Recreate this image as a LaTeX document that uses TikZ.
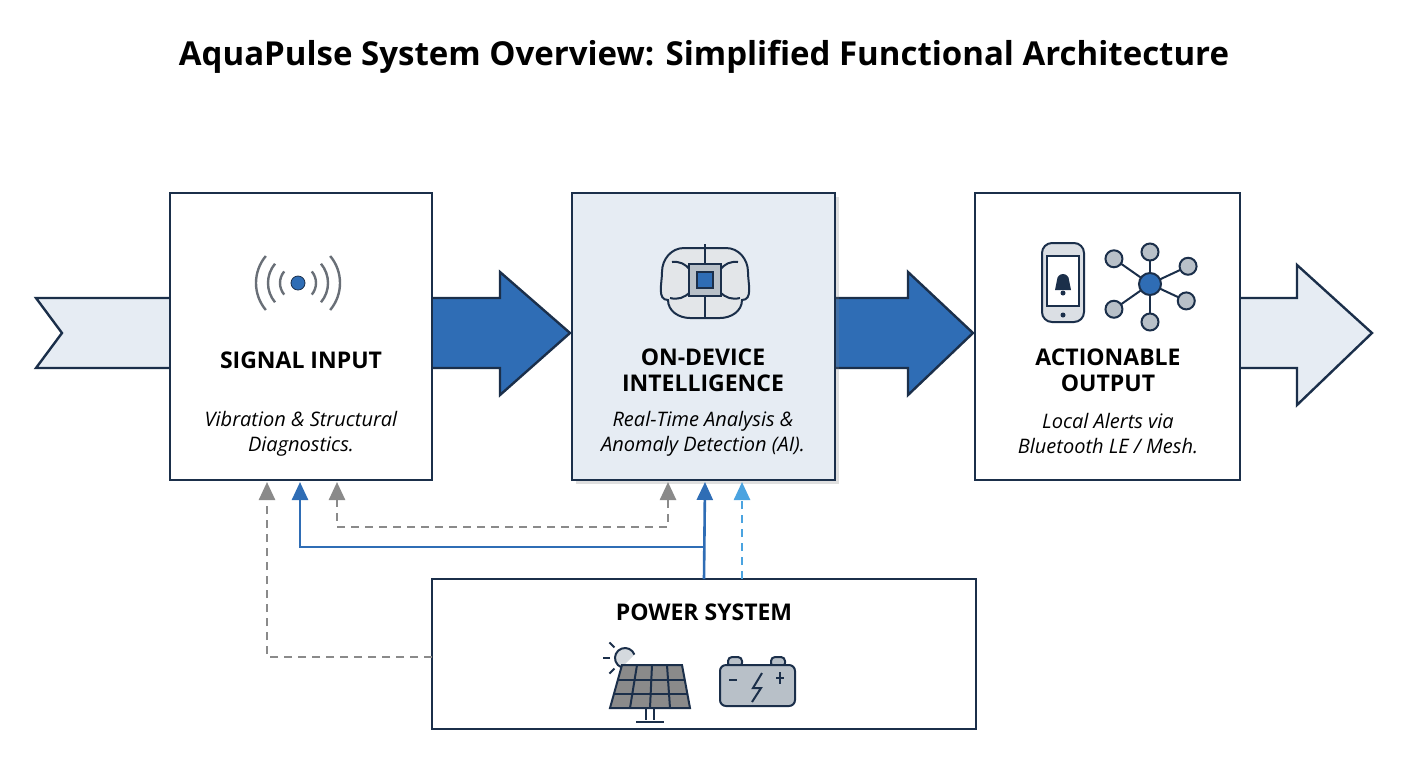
\documentclass[tikz,border=0pt]{standalone}
\usepackage{fontspec}
\setmainfont{Open Sans}
\usetikzlibrary{arrows.meta,shadows,calc}
\definecolor{navy}{HTML}{1B2F4A}
\definecolor{flowblue}{HTML}{2F6DB5}
\definecolor{paleblue}{HTML}{E6ECF3}
\definecolor{linkgray}{HTML}{8A8A8A}
\definecolor{skyblue}{HTML}{4AA3E0}
\definecolor{icongray}{HTML}{B8C0C8}
\tikzset{
  block/.style={draw=navy, line width=1.2pt, fill=white},
  head/.style={font=\fontsize{11.5}{13}\selectfont\bfseries, align=center},
  note/.style={font=\fontsize{10}{12.5}\selectfont\itshape, align=center},
  link/.style={line width=1.3pt, -{Triangle[length=9pt,width=8pt]}},
  dashlink/.style={dash pattern=on 4pt off 3pt},
  icon/.style={draw=navy, line width=1pt},
  dot/.style={circle, draw=navy, line width=1pt, fill=icongray, inner sep=0pt, minimum size=8.5pt}
}
\begin{document}
\begin{tikzpicture}[x=0.5pt,y=-0.5pt]
  \useasboundingbox (0,0) rectangle (1408,768);
  \node[font=\fontsize{16.5}{19}\selectfont\bfseries] (title) at (704,57) {AquaPulse System Overview: Simplified Functional Architecture};

  % big flow arrows
  \draw[icon, fill=paleblue, line width=1.2pt] (36,298) -- (172,298) -- (172,368) -- (36,368) -- (62,333) -- cycle;
  \draw[icon, fill=flowblue, line width=1.2pt] (430,298) -- (500,298) -- (500,272) -- (570,333) -- (500,395) -- (500,368) -- (430,368) -- cycle;
  \draw[icon, fill=flowblue, line width=1.2pt] (833,298) -- (908,298) -- (908,272) -- (973,333) -- (908,395) -- (908,368) -- (833,368) -- cycle;
  \draw[icon, fill=paleblue, line width=1.2pt] (1238,298) -- (1297,298) -- (1297,265) -- (1372,333) -- (1297,405) -- (1297,368) -- (1238,368) -- cycle;

  % blocks
  \draw[block] (170,193) rectangle (432,480);
  \draw[block, fill=paleblue, drop shadow={opacity=0.25,shadow xshift=2pt,shadow yshift=-2pt}] (572,193) rectangle (835,480);
  \draw[block] (975,193) rectangle (1240,480);
  \draw[block] (432,579) rectangle (976,729);
  \coordinate (sig) at (301,480);
  \coordinate (dev) at (703,480);
  \coordinate (pwr) at (704,579);

  \node[head] (sighead) at (301,360) {SIGNAL INPUT};
  \node[note] (signote) at (301,434) {Vibration \& Structural\\Diagnostics.};
  \node[head] (devhead) at (703,370) {ON-DEVICE\\INTELLIGENCE};
  \node[note] (devnote) at (703,434) {Real-Time Analysis \&\\Anomaly Detection (AI).};
  \node[head] (outhead) at (1108,370) {ACTIONABLE\\OUTPUT};
  \node[note] (outnote) at (1108,434) {Local Alerts via\\Bluetooth LE / Mesh.};
  \node[head] (pwrhead) at (704,612) {POWER SYSTEM};

  % connectors
  \draw[link, linkgray, dashlink] (432,657) -| (267,482);
  \draw[link, flowblue] (pwr) -- (705,482);
  \draw[link, flowblue] (705,547) -| (300,482);
  \draw[link, linkgray, dashlink, {Triangle[length=9pt,width=8pt]}-{Triangle[length=9pt,width=8pt]}] (337,482) |- (668,527) -- (668,482);
  \draw[link, skyblue, dashlink] (742,579) -- (742,482);

  % antenna icon
  \fill[flowblue, draw=navy] (298,283) circle (7);
  \foreach \r in {18,30,42} {
    \draw[linkgray!70!navy, line width=1.2pt] (298,283) ++(140:\r) arc (140:220:\r);
    \draw[linkgray!70!navy, line width=1.2pt] (298,283) ++(40:\r) arc (40:-40:\r);
  }
  % brain icon
  \draw[icon, fill=icongray!40] (684,248) to[out=180,in=90] (662,272) to[out=-90,in=180] (668,300)
    to[out=-90,in=180] (690,318) to[out=0,in=180] (720,318) to[out=0,in=-90] (742,300)
    to[out=0,in=-90] (748,272) to[out=90,in=0] (726,248) to[out=180,in=0] cycle;
  \draw[icon] (705,244) -- (705,318);
  \draw[icon] (672,262) to[bend left] (690,270);
  \draw[icon] (738,262) to[bend right] (720,270);
  \draw[icon] (670,298) to[bend right] (690,292);
  \draw[icon] (740,298) to[bend left] (720,292);
  \draw[icon, fill=icongray] (689,264) rectangle (721,296);
  \draw[icon, fill=flowblue] (697,272) rectangle (713,288);
  % phone icon
  \draw[icon, fill=icongray!50, rounded corners=5] (1042,243) rectangle (1084,322);
  \draw[icon, fill=white] (1047,256) rectangle (1079,306);
  \fill[navy] (1063,315) circle (2.5);
  \fill[navy] (1055,290) -- (1057,280) arc (180:360:6) -- (1071,290) -- cycle;
  \fill[navy] (1063,293) circle (2.5);
  % network icon
  \coordinate (hub) at (1150,284);
  \foreach \a/\d in {145/44,-145/44,-25/42,25/40,-90/32,90/38} {
    \draw[icon] (hub) -- ++(\a:\d) node[dot] {};
  }
  \fill[flowblue, draw=navy, line width=1pt] (hub) circle (11);
  % solar icon
  \draw[icon, fill=icongray!60] (625,658) ++(-20:10) arc (-20:-250:10);
  \foreach \a in {90,135,180,45,225} \draw[icon] (625,658) ++(\a:15) -- ++(\a:7);
  \draw[icon, fill=linkgray] (610,708) -- (690,708) -- (682,665) -- (622,665) -- cycle;
  \foreach \t in {0.25,0.5,0.75} {
    \draw[icon] ($(622,665)!\t!(682,665)$) -- ($(610,708)!\t!(690,708)$);
  }
  \draw[icon] (618,680) -- (685,680);
  \draw[icon] (614,694) -- (688,694);
  \draw[icon] (646,708) -- (646,720) (654,708) -- (654,720) (636,722) -- (664,722);
  % battery icon
  \draw[icon, fill=icongray, rounded corners=2] (728,657) rectangle (742,667);
  \draw[icon, fill=icongray, rounded corners=2] (771,657) rectangle (785,667);
  \draw[icon, fill=icongray, rounded corners=3] (720,665) rectangle (795,706);
  \draw[icon] (729,680) -- (737,680) (776,678) -- (784,678) (780,672) -- (780,684);
  \draw[icon] (762,673) -- (753,688) -- (761,688) -- (752,702);
\end{tikzpicture}
\end{document}
